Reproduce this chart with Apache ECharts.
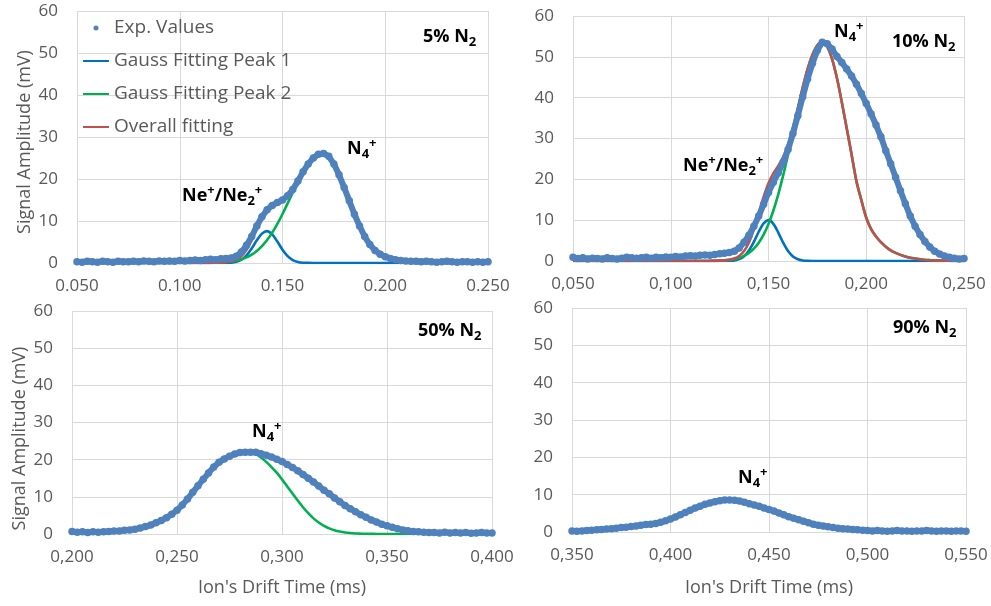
<!DOCTYPE html>
<html>
<head>
<meta charset="utf-8">
<script src="https://cdn.jsdelivr.net/npm/echarts@6/dist/echarts.min.js"></script>
<style>
html,body{margin:0;padding:0;background:#fff;}
#c{width:991px;height:606px;}
</style>
</head>
<body>
<div id="c"></div>
<script>
// ---------- Data ----------
const timeTop = [0.050,0.0525,0.055,0.0575,0.060,0.0625,0.065,0.0675,0.070,0.0725,0.075,0.0775,0.080,0.0825,0.085,0.0875,0.090,0.0925,0.095,0.0975,0.100,0.1025,0.105,0.1075,0.110,0.1125,0.115,0.1175,0.120,0.1225,0.125,0.1275,0.130,0.1325,0.135,0.1375,0.140,0.1425,0.145,0.1475,0.150,0.1525,0.155,0.1575,0.160,0.1625,0.165,0.1675,0.170,0.1725,0.175,0.1775,0.180,0.1825,0.185,0.1875,0.190,0.1925,0.195,0.1975,0.200,0.2025,0.205,0.2075,0.210,0.2125,0.215,0.2175,0.220,0.2225,0.225,0.2275,0.230,0.2325,0.235,0.2375,0.240,0.2425,0.245,0.2475,0.250];
const time50 = [0.200,0.2025,0.205,0.2075,0.210,0.2125,0.215,0.2175,0.220,0.2225,0.225,0.2275,0.230,0.2325,0.235,0.2375,0.240,0.2425,0.245,0.2475,0.250,0.2525,0.255,0.2575,0.260,0.2625,0.265,0.2675,0.270,0.2725,0.275,0.2775,0.280,0.2825,0.285,0.2875,0.290,0.2925,0.295,0.2975,0.300,0.3025,0.305,0.3075,0.310,0.3125,0.315,0.3175,0.320,0.3225,0.325,0.3275,0.330,0.3325,0.335,0.3375,0.340,0.3425,0.345,0.3475,0.350,0.3525,0.355,0.3575,0.360,0.3625,0.365,0.3675,0.370,0.3725,0.375,0.3775,0.380,0.3825,0.385,0.3875,0.390,0.3925,0.395,0.3975,0.400];
const time90 = [0.350,0.3525,0.355,0.3575,0.360,0.3625,0.365,0.3675,0.370,0.3725,0.375,0.3775,0.380,0.3825,0.385,0.3875,0.390,0.3925,0.395,0.3975,0.400,0.4025,0.405,0.4075,0.410,0.4125,0.415,0.4175,0.420,0.4225,0.425,0.4275,0.430,0.4325,0.435,0.4375,0.440,0.4425,0.445,0.4475,0.450,0.4525,0.455,0.4575,0.460,0.4625,0.465,0.4675,0.470,0.4725,0.475,0.4775,0.480,0.4825,0.485,0.4875,0.490,0.4925,0.495,0.4975,0.500,0.5025,0.505,0.5075,0.510,0.5125,0.515,0.5175,0.520,0.5225,0.525,0.5275,0.530,0.5325,0.535,0.5375,0.540,0.5425,0.545,0.5475,0.550];

// 5% N2
const exp5 = [0.3,0.2,0.4,0.3,0.2,0.4,0.3,0.2,0.4,0.3, 0.3,0.4,0.3,0.5,0.4,0.3,0.5,0.4,0.5,0.4, 0.6,0.5,0.6,0.7,0.6,0.8,0.9,0.8,1.0,1.1, 1.2,1.6,2.6,4.2,6.3,8.8,11.0,12.7,13.7,14.4, 15.0,16.0,17.5,19.5,21.7,23.6,25.0,25.9,26.1,25.4, 23.6,21.0,18.0,14.8,11.6,8.8,6.3,4.4,3.0,2.1, 1.5,1.1,0.8,0.6,0.5,0.4,0.4,0.3,0.4,0.3, 0.2,0.3,0.4,0.3,0.2,0.3,0.3,0.2,0.3,0.2, 0.3];
const peak1_5 = [0,0,0,0,0,0,0,0,0,0, 0,0,0,0,0,0,0,0,0,0, 0,0,0,0,0,0,0,0,0.01,0.03, 0.09,0.29,0.80,1.82,3.44,5.4,7.0,7.6,6.8,5.1, 3.15,1.62,0.69,0.25,0.07,0.02,0,0,0,0, 0,0,0,0,0,0,0,0,0,0, 0,0,0,0,0,0,0,0,0,0, 0,0,0,0,0,0,0,0,0,0, 0];
const peak2_5 = [0,0,0,0,0,0,0,0,0,0, 0,0,0,0,0,0,0,0,0,0, 0,0,0,0,0.01,0.02,0.04,0.07,0.12,0.21, 0.35,0.57,0.88,1.35,1.99,2.87,4.01,5.46,7.23,9.31, 11.66,14.2,16.8,19.4,21.7,23.7,25.1,25.9,26.0,25.0, 23.2,20.6,17.7,14.5,11.5,8.7,6.3,4.4,3.0,1.93, 1.2,0.72,0.41,0.23,0.12,0.06,0.03,0.02,0.01,0, 0,0,0,0,0,0,0,0,0,0, 0];
const overall5 = [0,0,0,0,0,0,0,0,0,0, 0,0,0,0,0,0,0,0,0,0, 0,0,0,0,0.01,0.02,0.04,0.07,0.13,0.24, 0.44,0.86,1.68,3.17,5.43,8.27,11.0,13.06,14.03,14.41, 14.81,15.82,17.49,19.65,21.77,23.72,25.1,25.9,26.0,25.0, 23.2,20.6,17.7,14.5,11.5,8.7,6.3,4.4,3.0,1.93, 1.2,0.72,0.41,0.23,0.12,0.06,0.03,0.02,0.01,0, 0,0,0,0,0,0,0,0,0,0, 0];

// 10% N2
const exp10 = [0.9,0.6,0.8,0.5,0.7,0.6,0.5,0.8,0.6,0.5, 0.7,0.9,0.8,0.7,0.8,0.9,0.7,0.9,0.8,1.0, 0.9,1.1,1.0,1.2,1.3,1.2,1.4,1.5,1.4,1.6, 1.8,1.9,2.1,2.4,3.2,4.6,6.3,8.5,11.0,13.9, 16.8,19.3,21.6,24.2,27.3,31.2,35.6,40.2,44.6,48.4, 51.6,53.6,53.2,51.9,50.1,48.6,47.0,45.3,43.3,41.0, 38.6,36.0,33.3,30.4,27.0,23.8,20.5,17.2,14.0,11.0, 8.5,6.5,4.8,3.4,2.4,1.7,1.2,0.9,0.7,0.5, 0.6];
const peak1_10 = [0,0,0,0,0,0,0,0,0,0, 0,0,0,0,0,0,0,0,0,0, 0,0,0,0,0,0,0,0,0,0, 0,0,0.04,0.15,0.46,1.18,2.56,4.67,7.16,9.23, 10.0,9.1,6.97,4.48,2.42,1.1,0.42,0.14,0.04,0.01, 0,0,0,0,0,0,0,0,0,0, 0,0,0,0,0,0,0,0,0,0, 0,0,0,0,0,0,0,0,0,0, 0];
const peak2_10 = [0,0,0,0,0,0,0,0,0,0, 0,0,0,0,0,0,0,0,0,0, 0,0,0,0,0,0,0.01,0.01,0.02,0.04, 0.08,0.15,0.27,0.46,0.77,1.25,1.98,3.02,4.49,6.48, 9.07,12.37,16.34,20.96,26.1,31.6,37.1,42.4,47.0,50.5, 52.8,53.6,52.5,49.5,44.8,38.9,32.5,26.1,19.5,14.9, 10.6,7.8,6.0,4.6,3.5,2.6,2.0,1.5,1.1,0.8, 0.6,0.4,0.3,0.22,0.15,0.1,0.07,0.05,0.03,0.02, 0.01];
const overall10 = [0,0,0,0,0,0,0,0,0,0, 0,0,0,0,0,0,0,0,0,0, 0,0,0,0,0,0,0.01,0.01,0.02,0.04, 0.08,0.16,0.31,0.61,1.23,2.43,4.54,7.69,11.65,15.71, 19.07,21.47,23.31,25.44,28.52,32.7,37.52,42.54,47.04,50.51, 52.8,53.6,52.5,49.5,44.8,38.9,32.5,26.1,19.5,14.9, 10.6,7.8,6.0,4.6,3.5,2.6,2.0,1.5,1.1,0.8, 0.6,0.4,0.3,0.22,0.15,0.1,0.07,0.05,0.03,0.02, 0.01];

// 50% N2
const exp50 = [0.7,0.5,0.6,0.4,0.6,0.5,0.6,0.7,0.8,0.8, 1.0,1.1,1.3,1.6,2.0,2.4,3.0,3.6,4.4,5.3, 6.4,7.8,9.4,11.2,13.0,14.7,16.4,18.0,19.3,20.2, 20.9,21.5,21.9,22.0,22.0,22.0,21.6,21.2,20.7,20.1, 19.5,18.7,17.9,17.0,16.0,15.0,14.0,12.9,11.8,10.8, 9.7,8.7,7.7,6.8,6.0,5.2,4.5,3.8,3.2,2.6, 2.2,1.8,1.4,1.1,0.9,0.7,0.6,0.5,0.4,0.4, 0.3,0.5,0.3,0.4,0.3,0.4,0.2,0.3,0.4,0.3, 0.3];
const peak2_50 = [0.05,0.06,0.08,0.1,0.12,0.16,0.2,0.27,0.35,0.46, 0.6,0.78,1.0,1.3,1.7,2.2,2.8,3.5,4.3,5.3, 6.4,7.7,9.2,10.8,12.5,14.3,16.0,17.6,19.0,20.1, 20.9,21.5,21.9,22.0,21.9,21.5,20.6,19.4,18.0,16.5, 14.7,12.8,10.9,9.0,7.2,5.6,4.2,3.1,2.2,1.5, 1.0,0.65,0.4,0.25,0.15,0.09,0.05,0.03,0.02,0.01, 0,0,0,0,0,0,0,0,0,0, 0,0,0,0,0,0,0,0,0,0, 0];

// 90% N2
const exp90 = [0.3,0.2,0.3,0.4,0.5,0.6,0.7,0.8,0.9,1.0, 1.2,1.3,1.5,1.6,1.8,2.0,2.1,2.3,2.6,3.0, 3.5,4.0,4.6,5.2,5.8,6.4,6.9,7.4,7.8,8.1, 8.4,8.6,8.6,8.5,8.3,8.0,7.6,7.2,6.9,6.4, 6.0,5.6,5.1,4.6,4.1,3.7,3.3,2.9,2.5,2.1, 1.8,1.6,1.4,1.2,1.0,0.9,0.8,0.7,0.6,0.5, 0.4,0.3,0.4,0.3,0.2,0.3,0.4,0.3,0.3,0.2, 0.3,0.3,0.4,0.3,0.2,0.3,0.3,0.2,0.3,0.3, 0.2];
const peak2_90 = [0.1,0.15,0.2,0.3,0.35,0.45,0.55,0.65,0.75,0.9, 1.0,1.15,1.3,1.45,1.65,1.85,2.0,2.2,2.5,2.9, 3.4,3.9,4.5,5.1,5.7,6.3,6.8,7.3,7.7,8.0, 8.3,8.5,8.5,8.4,8.2,7.9,7.5,7.1,6.8,6.3, 5.9,5.5,5.0,4.5,4.0,3.6,3.1,2.7,2.3,1.9, 1.6,1.3,1.1,0.9,0.7,0.55,0.45,0.35,0.27,0.2, 0.15,0.1,0.08,0.05,0.03,0.02,0.01,0,0,0, 0,0,0,0,0,0,0,0,0,0, 0];

const xRanges = [[0.05, 0.25], [0.05, 0.25], [0.20, 0.40], [0.35, 0.55]];
const decimalSeparators = ['.', ',', ',', ','];
const panelLabels = ['5% N', '10% N', '50% N', '90% N'];
const seriesNames = ['Exp. Values', 'Gauss Fitting Peak 1', 'Gauss Fitting Peak 2', 'Overall fitting'];
const yAxisTitle = 'Signal Amplitude (mV)';
const xAxisTitle = "Ion's Drift Time (ms)";

// ---------- Chart ----------
const COL = { exp: '#4f81bd', p1: '#0070c0', p2: '#00b050', all: '#c0504d' };
const FONT = 'Open Sans';
const GRAY = '#595959';
const grids = [
  { left: 77, top: 11, width: 411, height: 252 },
  { left: 573, top: 16, width: 391, height: 245 },
  { left: 72, top: 311, width: 420, height: 223 },
  { left: 572, top: 308, width: 394, height: 224 }
];
const pairs = (t, v) => t.map((x, i) => [x, v[i]]);

const xAxes = grids.map((g, i) => ({
  type: 'value', gridIndex: i,
  min: xRanges[i][0], max: xRanges[i][1], interval: 0.05,
  axisLine: { show: false }, axisTick: { show: false },
  splitLine: { show: true, lineStyle: { color: '#d9d9d9', width: 1 } },
  axisLabel: {
    color: GRAY, fontSize: 17, fontFamily: FONT, margin: 15,
    formatter: v => v.toFixed(3).replace('.', decimalSeparators[i])
  },
  name: i >= 2 ? xAxisTitle : '',
  nameLocation: 'middle', nameGap: i === 2 ? 45 : 47,
  nameTextStyle: { color: GRAY, fontSize: 18, fontFamily: FONT }
}));
const yAxes = grids.map((g, i) => ({
  type: 'value', gridIndex: i, min: 0, max: 60, interval: 10,
  axisLine: { show: false }, axisTick: { show: false },
  splitLine: { show: true, lineStyle: { color: '#d9d9d9', width: 1 } },
  axisLabel: { color: GRAY, fontSize: 17, fontFamily: FONT, margin: 19 },
  name: (i === 0 || i === 2) ? yAxisTitle : '',
  nameLocation: 'middle', nameGap: 43,
  nameTextStyle: { color: GRAY, fontSize: 18, fontFamily: FONT, padding: i === 2 ? [0, 32, 0, 0] : [0, 10, 0, 0] }
}));

function fitLine(name, color, t, v, idx) {
  return {
    name, type: 'line', xAxisIndex: idx, yAxisIndex: idx,
    data: pairs(t, v), showSymbol: false, symbol: 'none', smooth: 0.3,
    lineStyle: { color, width: 2.6 }, itemStyle: { color }, z: 2, silent: true
  };
}
function expLine(t, v, idx) {
  return {
    name: seriesNames[0], type: 'line', xAxisIndex: idx, yAxisIndex: idx,
    data: pairs(t, v), symbol: 'circle', symbolSize: 7.5, showSymbol: true,
    lineStyle: { color: COL.exp, width: 6 }, itemStyle: { color: COL.exp }, z: 3, silent: true
  };
}

const series = [
  fitLine(seriesNames[1], COL.p1, timeTop, peak1_5, 0),
  fitLine(seriesNames[2], COL.p2, timeTop, peak2_5, 0),
  fitLine(seriesNames[3], COL.all, timeTop, overall5, 0),
  expLine(timeTop, exp5, 0),
  fitLine(seriesNames[1], COL.p1, timeTop, peak1_10, 1),
  fitLine(seriesNames[2], COL.p2, timeTop, peak2_10, 1),
  fitLine(seriesNames[3], COL.all, timeTop, overall10, 1),
  expLine(timeTop, exp10, 1),
  fitLine(seriesNames[2], COL.p2, time50, peak2_50, 2),
  expLine(time50, exp50, 2),
  fitLine(seriesNames[2], COL.p2, time90, peak2_90, 3),
  expLine(time90, exp90, 3)
];

const rich = {
  b: { fontFamily: FONT, fontWeight: 'bold', fontSize: 18, color: '#000', lineHeight: 26, verticalAlign: 'middle' },
  sub: { fontFamily: FONT, fontWeight: 'bold', fontSize: 13, color: '#000', padding: [11, 0, 0, 0], verticalAlign: 'middle' },
  sup: { fontFamily: FONT, fontWeight: 'bold', fontSize: 13, color: '#000', padding: [0, 0, 11, 0], verticalAlign: 'middle' }
};
const n4 = '{b|N}{sub|4}{sup|+}';
const ne = '{b|Ne}{sup|+}{b|/Ne}{sub|2}{sup|+}';
const notes = [
  { text: '{b|' + panelLabels[0] + '}{sub|2}', left: 423, top: 24 },
  { text: n4, left: 347, top: 136 },
  { text: ne, left: 182, top: 183 },
  { text: '{b|' + panelLabels[1] + '}{sub|2}', left: 892, top: 29 },
  { text: n4, left: 834, top: 19 },
  { text: ne, left: 683, top: 153 },
  { text: '{b|' + panelLabels[2] + '}{sub|2}', left: 418, top: 318 },
  { text: n4, left: 252, top: 419 },
  { text: '{b|' + panelLabels[3] + '}{sub|2}', left: 893, top: 315 },
  { text: n4, left: 738, top: 465 }
];

const option = {
  animation: false,
  backgroundColor: '#fff',
  textStyle: { fontFamily: FONT },
  grid: grids,
  xAxis: xAxes,
  yAxis: yAxes,
  title: notes.map(n => ({ text: n.text, left: n.left, top: n.top, padding: 0, textStyle: { rich } })),
  legend: {
    orient: 'vertical', left: 82, top: 18, padding: 0,
    itemWidth: 26, itemHeight: 5, itemGap: 13, selectedMode: false,
    textStyle: { color: GRAY, fontSize: 19, fontFamily: FONT, lineHeight: 20 },
    data: [
      { name: seriesNames[0], icon: 'circle', itemStyle: { color: COL.exp } },
      { name: seriesNames[1], itemStyle: { opacity: 0 } },
      { name: seriesNames[2], itemStyle: { opacity: 0 } },
      { name: seriesNames[3], itemStyle: { opacity: 0 } }
    ]
  },
  series
};

const chart = echarts.init(document.getElementById('c'));
chart.setOption(option);
</script>
</body>
</html>
